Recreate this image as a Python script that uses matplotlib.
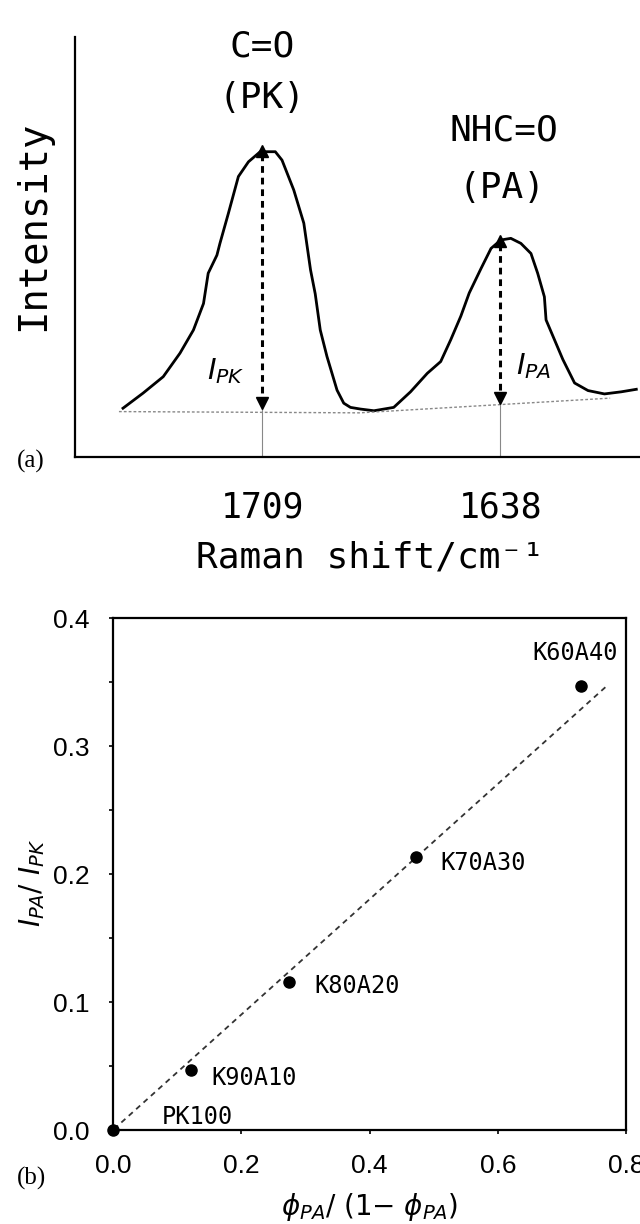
import numpy as np
import matplotlib.pyplot as plt

MONO = 'DejaVu Sans Mono'

# (a) Raman spectrum
wn = [1750.5, 1744.5, 1738.5, 1733.5, 1729.5, 1726.5, 1725.1, 1722.5, 1721.6,
      1719.1, 1716.1, 1713.1, 1709.6, 1705.1, 1703.1, 1699.6, 1696.6, 1694.6,
      1693.2, 1691.7, 1689.7, 1686.7, 1684.7, 1682.7, 1679.7, 1675.7, 1669.8,
      1664.8, 1659.8, 1655.8, 1652.8, 1649.8, 1647.3, 1643.8, 1640.8, 1637.9,
      1634.9, 1631.9, 1628.9, 1626.9, 1624.9, 1624.4, 1621.9, 1619.4, 1615.9,
      1611.9, 1607.0, 1602.0, 1597.5]
intensity = [11.6, 15.2, 19.1, 24.7, 30.2, 36.5, 43.7, 48.0, 50.8,
             57.9, 66.7, 70.2, 72.6, 72.6, 70.6, 63.5, 55.6, 44.5,
             38.8, 30.2, 23.9, 15.9, 12.8, 11.8, 11.4, 11.0, 11.8,
             15.5, 19.9, 22.7, 27.9, 33.5, 39.0, 44.8, 49.6, 51.6,
             52.0, 50.8, 48.4, 43.7, 38.1, 32.6, 27.9, 23.2, 17.6,
             15.8, 15.0, 15.5, 16.1]
base_wn = [1751.7, 1680.0, 1605.3]
base_int = [10.8, 10.5, 14.0]
peak_wn = [1709, 1638]
peak_top = [74.0, 52.6]
peak_base = [11.4, 12.6]
peak_ticks = ['1709', '1638']

# (b) intensity ratio vs volume fraction ratio
samples = ['PK100', 'K90A10', 'K80A20', 'K70A30', 'K60A40']
phi_ratio = [0.0, 0.122, 0.274, 0.472, 0.730]
i_ratio = [0.0, 0.047, 0.116, 0.213, 0.347]
fit_x = [-0.01, 0.768]
fit_y = [-0.0045, 0.346]

fig = plt.figure(figsize=(6.4, 12.24), dpi=100)

# ---- panel (a)
ax1 = fig.add_axes([75/640, 1-457/1224, 565/640, 420.5/1224])
ax1.plot(wn, intensity, color='black', lw=2.0)
ax1.plot(base_wn, base_int, color='#888888', lw=1.0, ls=(0, (2, 1.5)))
for w, top, bot in zip(peak_wn, peak_top, peak_base):
    ax1.plot([w, w], [0, bot], color='#888888', lw=0.8)
    ax1.plot([w, w], [top - 2, bot + 2], color='black', lw=2.2, ls=(0, (2.2, 1.6)))
    ax1.plot(w, top - 1.2, marker='^', color='black', ms=9)
    ax1.plot(w, bot + 1.5, marker='v', color='black', ms=9)

ax1.set_xlim(1764.8, 1596.4)
ax1.set_ylim(0, 100)
ax1.spines['top'].set_visible(False)
ax1.spines['right'].set_visible(False)
for s in ['left', 'bottom']:
    ax1.spines[s].set_linewidth(1.6)
ax1.set_yticks([])
ax1.set_xticks(peak_wn)
ax1.set_xticklabels(peak_ticks, fontfamily=MONO, fontsize=25)
ax1.tick_params(axis='x', length=0, pad=24)
ax1.set_xlabel('Raman shift/cm\u207b\u00b9', fontfamily=MONO, fontsize=26, va='center')
ax1.xaxis.set_label_coords(0.522, -0.238)
ax1.set_ylabel('Intensity', fontfamily=MONO, fontsize=28, va='center')
ax1.yaxis.set_label_coords(-0.074, 0.549)

ax1.text(1709, 97.7, 'C=O', fontfamily=MONO, fontsize=26, ha='center', va='center', clip_on=False)
ax1.text(1709, 85.4, '(PK)', fontfamily=MONO, fontsize=26, ha='center', va='center')
ax1.text(1637, 77.7, 'NHC=O', fontfamily=MONO, fontsize=26, ha='center', va='center')
ax1.text(1637.5, 64.0, '(PA)', fontfamily=MONO, fontsize=26, ha='center', va='center')
ax1.text(1720.0, 20.5, '$I_{PK}$', fontsize=21, ha='center', va='center')
ax1.text(1628.0, 21.5, '$I_{PA}$', fontsize=21, ha='center', va='center')
fig.text(31/640, 1-461/1224, '(a)', fontfamily='Liberation Serif', fontsize=18,
         ha='center', va='center')

# ---- panel (b)
ax2 = fig.add_axes([113/640, 1-1130/1224, 513/640, 512/1224])
ax2.plot(fit_x, fit_y, color='#333333', lw=1.3, ls=(0, (3, 2.5)))
ax2.plot(phi_ratio, i_ratio, 'o', color='black', ms=8, clip_on=False, zorder=3)

label_offsets = [(35, 9.4), (14.4, -5.8), (18.7, -3), (17.6, -4.3), (-4.3, 23.8)]
for name, x, y, off in zip(samples, phi_ratio, i_ratio, label_offsets):
    ha = 'center' if name == 'K60A40' else 'left'
    ax2.annotate(name, (x, y), xytext=off, textcoords='offset points',
                 fontfamily=MONO, fontsize=17, ha=ha, va='center')

ax2.set_xlim(0, 0.8)
ax2.set_ylim(0, 0.4)
ax2.set_xticks(np.arange(0, 0.81, 0.2))
ax2.set_yticks(np.arange(0, 0.41, 0.1))
ax2.set_yticks(np.arange(0.05, 0.4, 0.1), minor=True)
ax2.set_xticklabels(['0.0', '0.2', '0.4', '0.6', '0.8'])
ax2.set_yticklabels(['0.0', '0.1', '0.2', '0.3', '0.4'])
ax2.tick_params(which='both', direction='out', length=3, width=1.2,
                labelsize=19, pad=14)
for lab in ax2.get_xticklabels() + ax2.get_yticklabels():
    lab.set_fontfamily('Liberation Sans')
for s in ax2.spines.values():
    s.set_linewidth(1.6)
ax2.set_xlabel(r'$\phi_{PA}$/ (1$-$ $\phi_{PA}$)', fontsize=20, va='center')
ax2.xaxis.set_label_coords(0.5, -0.150)
ax2.set_ylabel(r'$I_{PA}$/ $I_{PK}$', fontsize=20, va='center')
ax2.yaxis.set_label_coords(-0.158, 0.482)
fig.text(32/640, 1-1178/1224, '(b)', fontfamily='Liberation Serif', fontsize=18,
         ha='center', va='center')

fig.savefig('out.png', dpi=100)
